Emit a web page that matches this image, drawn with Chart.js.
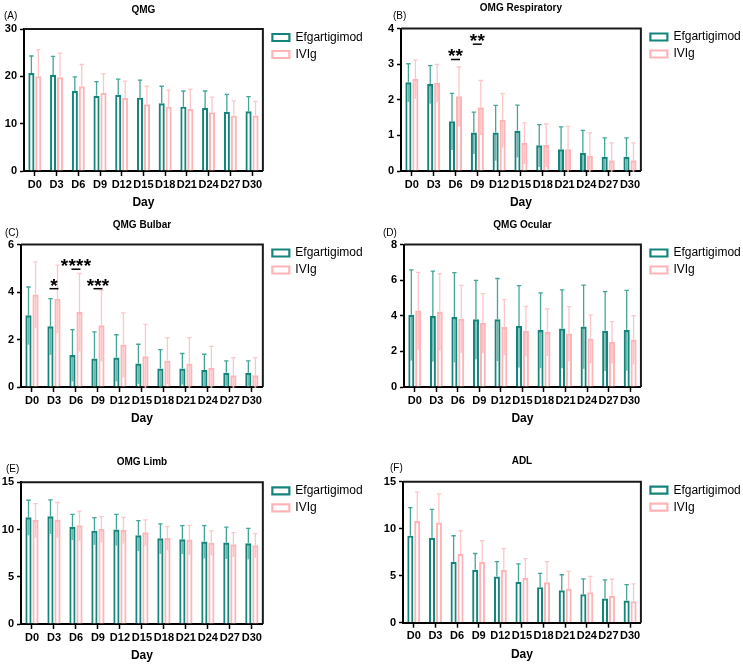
<!DOCTYPE html>
<html><head><meta charset="utf-8">
<script src="https://cdn.jsdelivr.net/npm/chart.js@4.4.1/dist/chart.umd.min.js"></script>
<style>
html,body{margin:0;padding:0;background:#fff}
body{width:743px;height:667px;position:relative;overflow:hidden}
.p{position:absolute}
</style></head><body>
<div class="p" style="left:0;top:0;width:372px;height:220px"><canvas id="cA"></canvas></div>
<div class="p" style="left:372px;top:0;width:371px;height:220px"><canvas id="cB"></canvas></div>
<div class="p" style="left:0;top:220px;width:372px;height:220px"><canvas id="cC"></canvas></div>
<div class="p" style="left:372px;top:220px;width:371px;height:220px"><canvas id="cD"></canvas></div>
<div class="p" style="left:0;top:440px;width:372px;height:227px"><canvas id="cE"></canvas></div>
<div class="p" style="left:372px;top:440px;width:371px;height:227px"><canvas id="cF"></canvas></div>
<script>
// ---------- data ----------
const days = ['D0','D3','D6','D9','D12','D15','D18','D21','D24','D27','D30'];
const seriesNames = ['Efgartigimod','IVIg'];

// (A) QMG
const qmgEfg    = [20.7, 20.3, 16.9, 15.9, 16.1, 15.5, 14.3, 13.6, 13.3, 12.5, 12.6];
const qmgIvig   = [20.0, 19.8, 17.9, 16.5, 15.4, 14.1, 13.6, 13.1, 12.4, 11.7, 11.7];
const qmgEfgHi  = [24.3, 24.2, 19.9, 18.9, 19.4, 19.2, 17.9, 16.9, 16.9, 16.2, 15.7];
const qmgIvigHi = [25.6, 24.9, 22.5, 20.5, 19.0, 17.9, 17.1, 17.3, 15.6, 14.8, 14.7];

// (B) OMG Respiratory
const respEfg    = [2.49, 2.44, 1.40, 1.08, 1.08, 1.13, 0.72, 0.61, 0.51, 0.40, 0.40];
const respIvig   = [2.59, 2.48, 2.10, 1.79, 1.43, 0.79, 0.73, 0.61, 0.42, 0.30, 0.30];
const respEfgHi  = [3.01, 2.96, 2.18, 1.65, 1.84, 1.85, 1.30, 1.24, 1.14, 0.93, 0.93];
const respIvigHi = [3.12, 2.99, 2.92, 2.54, 2.17, 1.35, 1.32, 1.25, 1.07, 0.79, 0.79];
const respSigIdx  = [2, 3];
const respSigLine = [3.13, 3.56];
const respSigMark = ['**', '**'];

// (C) QMG Bulbar
const bulbEfg    = [3.02, 2.56, 1.35, 1.20, 1.24, 0.99, 0.78, 0.78, 0.72, 0.60, 0.60];
const bulbIvig   = [3.90, 3.72, 3.16, 2.60, 1.79, 1.30, 1.12, 0.99, 0.80, 0.49, 0.49];
const bulbEfgHi  = [4.21, 3.72, 2.42, 2.32, 2.20, 1.80, 1.57, 1.41, 1.38, 1.10, 1.10];
const bulbIvigHi = [5.27, 5.13, 4.78, 4.07, 3.12, 2.64, 2.08, 2.08, 1.71, 1.24, 1.24];
const bulbSigIdx  = [1, 2, 3];
const bulbSigLine = [4.14, 4.96, 4.14];
const bulbSigMark = ['*', '****', '***'];

// (D) QMG Ocular
const ocEfg    = [4.06, 3.99, 3.93, 3.80, 3.80, 3.42, 3.20, 3.28, 3.40, 3.16, 3.20];
const ocIvig   = [4.30, 4.24, 3.84, 3.60, 3.38, 3.15, 3.09, 3.01, 2.72, 2.53, 2.66];
const ocEfgHi  = [6.58, 6.50, 6.42, 5.99, 6.09, 5.69, 5.28, 5.45, 5.72, 5.36, 5.42];
const ocIvigHi = [6.44, 6.37, 5.70, 5.24, 4.91, 4.52, 4.38, 4.51, 4.05, 3.67, 4.00];

// (E) OMG Limb
const limbEfg    = [11.3, 11.4, 10.3, 9.88, 10.0, 9.39, 9.07, 8.97, 8.74, 8.63, 8.54];
const limbIvig   = [11.0, 11.05, 10.45, 10.05, 9.95, 9.72, 9.11, 8.95, 8.63, 8.45, 8.34];
const limbEfgHi  = [13.1, 13.15, 11.6, 11.26, 11.6, 10.95, 10.6, 10.42, 10.42, 10.26, 10.13];
const limbIvigHi = [12.75, 12.86, 11.95, 11.37, 11.28, 11.02, 10.3, 10.45, 9.86, 9.68, 9.56];

// (F) ADL
const adlEfg    = [9.26, 9.04, 6.49, 5.62, 4.92, 4.36, 3.78, 3.46, 3.02, 2.58, 2.36];
const adlIvig   = [10.82, 10.65, 7.30, 6.45, 5.62, 4.76, 4.30, 3.64, 3.24, 2.86, 2.28];
const adlEfgHi  = [12.25, 12.05, 9.25, 7.36, 6.49, 6.26, 5.25, 5.10, 4.66, 4.55, 4.05];
const adlIvigHi = [13.9, 13.7, 9.78, 8.72, 7.88, 6.82, 6.50, 5.45, 4.92, 4.62, 4.12];

// ---------- styles ----------
const FONT = "'Liberation Sans', Arial, Helvetica, sans-serif";
const TEAL = '#14857a', TEAL_ERR = '#45a597', TEAL_SHADE = 'rgba(20,133,122,0.6)';
const PINK = '#ffb4b7', PINK_ERR = '#ffc6c8', PINK_SHADE = 'rgba(255,180,183,0.8)';
const Y_W = 20, X_H = 39;

const panels = [
  {id:'cA', tag:'(A)', title:'QMG', efg:qmgEfg, ivig:qmgIvig, efgHi:qmgEfgHi, ivigHi:qmgIvigHi, max:30, step:10, shade:false,
   box:{W:372,H:220,l:24,t:29,r:262,b:171}, titleY:10, tagX:4, tagY:16},
  {id:'cB', tag:'(B)', title:'OMG Respiratory', efg:respEfg, ivig:respIvig, efgHi:respEfgHi, ivigHi:respIvigHi, max:4, step:1, shade:true,
   sig:{idx:respSigIdx, line:respSigLine, mark:respSigMark},
   box:{W:371,H:220,l:29,t:28.5,r:268,b:171}, titleY:8, tagX:21, tagY:16},
  {id:'cC', tag:'(C)', title:'QMG Bulbar', efg:bulbEfg, ivig:bulbIvig, efgHi:bulbEfgHi, ivigHi:bulbIvigHi, max:6, step:2, shade:true,
   sig:{idx:bulbSigIdx, line:bulbSigLine, mark:bulbSigMark},
   box:{W:372,H:220,l:21,t:24.5,r:262,b:167}, titleY:5, tagX:5, tagY:13},
  {id:'cD', tag:'(D)', title:'QMG Ocular', efg:ocEfg, ivig:ocIvig, efgHi:ocEfgHi, ivigHi:ocIvigHi, max:8, step:2, shade:true,
   box:{W:371,H:220,l:32,t:24.5,r:268,b:167}, titleY:5, tagX:11, tagY:13},
  {id:'cE', tag:'(E)', title:'OMG Limb', efg:limbEfg, ivig:limbIvig, efgHi:limbEfgHi, ivigHi:limbIvigHi, max:15, step:5, shade:true,
   box:{W:372,H:227,l:21,t:42.3,r:262,b:184}, titleY:22, tagX:6, tagY:29},
  {id:'cF', tag:'(F)', title:'ADL', efg:adlEfg, ivig:adlIvig, efgHi:adlEfgHi, ivigHi:adlIvigHi, max:15, step:5, shade:false,
   box:{W:371,H:227,l:31,t:41.7,r:268,b:182.7}, titleY:21, tagX:18, tagY:28}
];

// ---------- plugins ----------
const legendShift = {
  id:'legendShift',
  afterLayout(chart){
    const lg = chart.legend; if(!lg) return;
    lg.left += 4.5; lg.right = chart.width; lg.width = lg.right - lg.left;
    lg.top -= 2.5; lg.bottom -= 2.5;
  }
};
const errorBars = {
  id:'errorBars',
  afterDatasetsDraw(chart, args, opts){
    const ctx = chart.ctx, ys = chart.scales.y;
    ctx.save();
    chart.data.datasets.forEach((ds, di) => {
      const meta = chart.getDatasetMeta(di);
      meta.data.forEach((bar, i) => {
        const hi = ds.errHi[i], mean = ds.data[i];
        const x = bar.x, yMean = bar.y, yTop = ys.getPixelForValue(hi);
        if (opts.shade) {
          const lo = Math.max(0, 2*mean - hi);
          const yLo = ys.getPixelForValue(lo);
          const bw = ds.borderWidth;
          ctx.fillStyle = ds.shadeColor;
          ctx.fillRect(bar.x - bar.width/2 + bw, yMean + bw*0.5, bar.width - 2*bw, yLo - yMean);
        }
        ctx.strokeStyle = ds.errColor; ctx.lineWidth = 1.3;
        ctx.beginPath();
        ctx.moveTo(x, yMean); ctx.lineTo(x, yTop);
        ctx.moveTo(x - 2.2, yTop); ctx.lineTo(x + 2.2, yTop);
        ctx.stroke();
      });
    });
    ctx.restore();
  }
};
const decor = {
  id:'decor',
  afterDraw(chart, args, opts){
    const ctx = chart.ctx, a = chart.chartArea;
    ctx.save();
    ctx.strokeStyle = '#1a1a1a'; ctx.lineWidth = 2;
    ctx.beginPath();
    ctx.moveTo(a.left, a.top); ctx.lineTo(a.right, a.top); ctx.lineTo(a.right, a.bottom);
    ctx.stroke();
    ctx.fillStyle = '#000';
    ctx.font = 'bold 10px ' + FONT; ctx.textAlign = 'center'; ctx.textBaseline = 'middle';
    ctx.fillText(opts.title, (a.left + a.right)/2, opts.titleY);
    ctx.font = '10px ' + FONT; ctx.textAlign = 'left';
    ctx.fillText(opts.tag, opts.tagX, opts.tagY);
    if (opts.sig) {
      const xs = chart.scales.x, ys = chart.scales.y;
      opts.sig.idx.forEach((ci, k) => {
        const x = xs.getPixelForValue(ci), y = ys.getPixelForValue(opts.sig.line[k]);
        ctx.strokeStyle = '#000'; ctx.lineWidth = 1.5;
        ctx.beginPath(); ctx.moveTo(x - 4.5, y); ctx.lineTo(x + 4.5, y); ctx.stroke();
        const m = opts.sig.mark[k];
        ctx.font = 'bold 19px ' + FONT; ctx.textAlign = 'center'; ctx.textBaseline = 'alphabetic';
        const sp = 7.6, n = m.length;
        for (let j = 0; j < n; j++) {
          ctx.fillText('*', x + (j - (n-1)/2)*sp, y + 3);
        }
      });
    }
    ctx.restore();
  }
};

// ---------- charts ----------
panels.forEach(p => {
  const B = p.box;
  const cfg = {
    type:'bar',
    data:{
      labels: days,
      datasets:[
        {label: seriesNames[0], data: p.efg, errHi: p.efgHi, errColor: TEAL_ERR, shadeColor: TEAL_SHADE,
         backgroundColor:'#ffffff', borderColor: TEAL, borderWidth: 2.2, borderSkipped:'start',
         categoryPercentage:0.64, barPercentage:0.88},
        {label: seriesNames[1], data: p.ivig, errHi: p.ivigHi, errColor: PINK_ERR, shadeColor: PINK_SHADE,
         backgroundColor:'#ffffff', borderColor: PINK, borderWidth: 2.2, borderSkipped:'start',
         categoryPercentage:0.64, barPercentage:0.88}
      ]
    },
    options:{
      responsive:true, maintainAspectRatio:false, animation:false,
      layout:{padding:{left: B.l - Y_W, top: B.t, right: B.W - 105 - B.r, bottom: B.H - X_H - B.b}},
      scales:{
        x:{
          offset:true,
          grid:{display:true, drawOnChartArea:false, offset:false, tickLength:5, tickWidth:1.5, tickColor:'#000'},
          border:{display:true, color:'#000', width:2},
          ticks:{font:{family:FONT, size:11, weight:'bold'}, color:'#000', padding:2, maxRotation:0, autoSkip:false},
          title:{display:true, text:'Day', font:{family:FONT, size:12, weight:'bold'}, color:'#000', padding:{top:0,bottom:0}},
          afterFit(s){ s.height = X_H; }
        },
        y:{
          min:0, max:p.max,
          ticks:{stepSize:p.step, font:{family:FONT, size:11, weight:'bold'}, color:'#000', padding:3},
          grid:{display:true, drawOnChartArea:false, tickLength:4, tickWidth:1.5, tickColor:'#000'},
          border:{display:true, color:'#000', width:2},
          afterFit(s){ s.width = Y_W; }
        }
      },
      plugins:{
        legend:{position:'right', align:'start',
          labels:{boxWidth:17, boxHeight:7, padding:5, color:'#000', font:{family:FONT, size:12}}},
        tooltip:{enabled:false},
        title:{display:false},
        errorBars:{shade:p.shade},
        decor:{title:p.title, tag:p.tag, titleY:p.titleY, tagX:p.tagX, tagY:p.tagY, sig:p.sig}
      }
    },
    plugins:[legendShift, errorBars, decor]
  };
  const ch = new Chart(document.getElementById(p.id), cfg);
  for (let it = 0; it < 2; it++) {
    const a = ch.chartArea, pad = cfg.options.layout.padding;
    pad.right  += a.right - B.r;
    pad.left   += B.l - a.left;
    pad.top    += B.t - a.top;
    pad.bottom += a.bottom - B.b;
    ch.options.layout.padding = Object.assign({}, pad);
    ch.update();
  }
});
</script>
</body></html>
